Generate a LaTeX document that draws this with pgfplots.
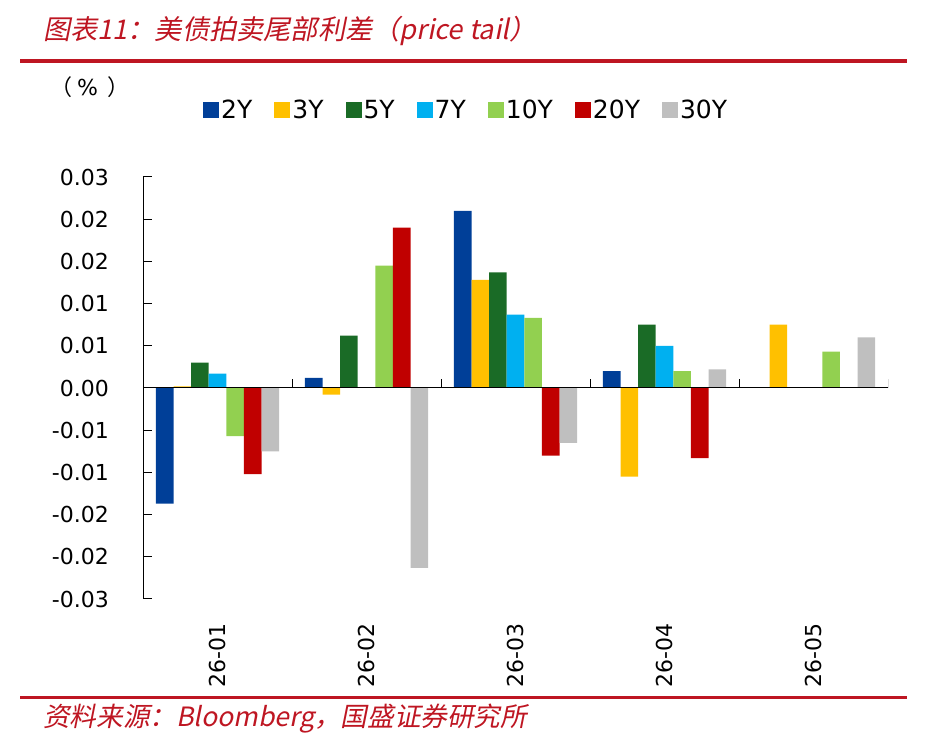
\documentclass[border=0pt]{standalone}
\usepackage{pgfplots}
\pgfplotsset{compat=1.18}
\usepackage{fontspec}
\setmainfont{DejaVu Sans}
\newfontfamily\cjk{Noto Sans CJK SC}
\newfontfamily\cjkit[FakeSlant=0.2]{Noto Sans CJK SC}
\definecolor{cTwo}{RGB}{0,63,152}
\definecolor{cThree}{RGB}{255,192,0}
\definecolor{cFive}{RGB}{26,107,38}
\definecolor{cSeven}{RGB}{0,176,240}
\definecolor{cTen}{RGB}{146,208,80}
\definecolor{cTwenty}{RGB}{192,0,0}
\definecolor{cThirty}{RGB}{191,191,191}
\definecolor{gsred}{RGB}{190,22,34}
\begin{document}
\begin{tikzpicture}
\useasboundingbox (0pt,0pt) rectangle (925pt,751pt);
% header / footer
\draw[gsred, line width=3.5pt] (20pt,690pt) -- (907pt,690pt);
\draw[gsred, line width=3.5pt] (20pt,53.5pt) -- (907pt,53.5pt);
\node[anchor=west, inner sep=0pt, text=gsred] at (43pt,720pt) {\cjkit\fontsize{27.2}{30}\selectfont 图表11：美债拍卖尾部利差（price tail）};
\node[anchor=west, inner sep=0pt, text=gsred] at (43pt,32pt) {\cjkit\fontsize{26.6}{30}\selectfont 资料来源：Bloomberg，国盛证券研究所};
\node[anchor=center, inner sep=0pt] at (90pt,664pt) {\fontsize{22}{26}\selectfont {\cjk （}\hspace{5pt}\%\hspace{10pt}{\cjk ）}};
\begin{axis}[
  at={(143pt,152pt)}, anchor=south west,
  scale only axis, width=745pt, height=422pt,
  xmin=-0.5, xmax=4.5, ymin=-0.025, ymax=0.025,
  scaled y ticks=false,
  ybar=0pt, bar width=17.6pt,
  axis y line*=left, axis x line*=bottom,
  x axis line style={draw=none},
  y axis line style={line width=1pt},
  xtick={0,1,2,3,4},
  xticklabels={26-01,26-02,26-03,26-04,26-05},
  xtick style={draw=none},
  xticklabel style={rotate=90, anchor=east, inner sep=0pt, xshift=-24pt, font=\fontsize{22}{26}\selectfont},
  ytick={-0.025,-0.02,-0.015,-0.01,-0.005,0,0.005,0.01,0.015,0.02,0.025},
  yticklabels={-0.03,-0.02,-0.02,-0.01,-0.01,0.00,0.01,0.01,0.02,0.02,0.03},
  yticklabel style={anchor=east, inner sep=0pt, xshift=-34pt, font=\fontsize{22}{26}\selectfont},
  ytick style={line width=1pt, black},
  tick align=inside, major tick length=9pt,
  legend columns=7,
  legend style={at={(axis description cs:0.0805,1.159)}, anchor=west, draw=none, fill=none, inner sep=0pt,
    font=\fontsize{25}{28}\selectfont,
    /tikz/every even column/.append style={column sep=20pt}},
  legend image code/.code={\path[#1,draw=none] (0pt,-8pt) rectangle (16pt,8pt);},
]
\addplot[fill=cTwo, draw=none] coordinates {(0,-0.0137) (1,0.0012) (2,0.0210) (3,0.0020)};
\addlegendentry{2Y}
\addplot[fill=cThree, draw=none] coordinates {(0,0.0002) (1,-0.0008) (2,0.0128) (3,-0.0105) (4,0.0075)};
\addlegendentry{3Y}
\addplot[fill=cFive, draw=none] coordinates {(0,0.0030) (1,0.0062) (2,0.0137) (3,0.0075)};
\addlegendentry{5Y}
\addplot[fill=cSeven, draw=none] coordinates {(0,0.0017) (2,0.0087) (3,0.0050)};
\addlegendentry{7Y}
\addplot[fill=cTen, draw=none] coordinates {(0,-0.0057) (1,0.0145) (2,0.0083) (3,0.0020) (4,0.0043)};
\addlegendentry{10Y}
\addplot[fill=cTwenty, draw=none] coordinates {(0,-0.0102) (1,0.0190) (2,-0.0080) (3,-0.0083)};
\addlegendentry{20Y}
\addplot[fill=cThirty, draw=none] coordinates {(0,-0.0075) (1,-0.0213) (2,-0.0065) (3,0.0022) (4,0.0060)};
\addlegendentry{30Y}
\draw[black, line width=1pt] (axis cs:-0.5,0) -- (axis cs:4.5,0);
\draw[black, line width=1pt] (axis cs:0.5,0) -- ++(0pt,9pt);
\draw[black, line width=1pt] (axis cs:1.5,0) -- ++(0pt,9pt);
\draw[black, line width=1pt] (axis cs:2.5,0) -- ++(0pt,9pt);
\draw[black, line width=1pt] (axis cs:3.5,0) -- ++(0pt,9pt);
\draw[black, line width=1pt] (axis cs:4.5,0) -- ++(0pt,9pt);
\end{axis}
\end{tikzpicture}
\end{document}
